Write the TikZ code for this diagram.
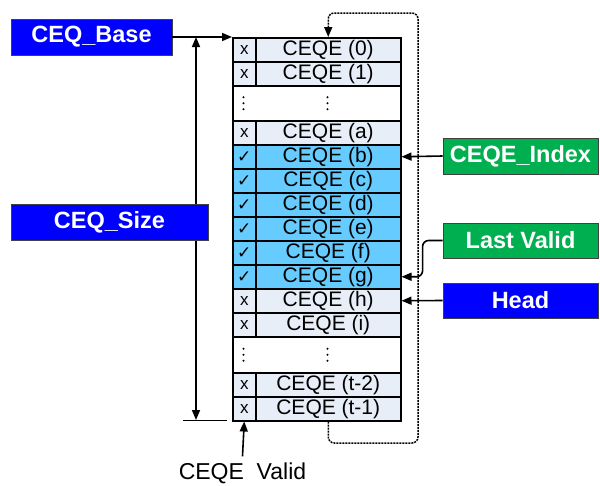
\documentclass[tikz,border=0pt]{standalone}
\usepackage{fontspec}
\setmainfont{Liberation Sans}
\newfontfamily\dejavu{DejaVu Sans}
\usetikzlibrary{arrows.meta}
\definecolor{cellgray}{HTML}{E8EEF8}
\definecolor{cellblue}{HTML}{66CCFF}
\definecolor{lblblue}{HTML}{0000FF}
\definecolor{lblgreen}{HTML}{00B050}
\newcommand{\xsym}{{\fontsize{17}{17}\selectfont x}}
\newcommand{\vsym}{{\dejavu\fontsize{17}{17}\selectfont ✓}}
\begin{document}
\begin{tikzpicture}[x=1pt,y=-1pt,
  cell/.style={draw=black, line width=1.5pt, inner sep=0pt, anchor=north west,
    minimum height=24pt, font=\fontsize{21}{21}\selectfont},
  dotrow/.style={draw=black, line width=1.5pt, fill=white, inner sep=0pt,
    anchor=north west, minimum width=168pt, minimum height=35pt},
  lbl/.style={draw=black!75, line width=0.8pt, text=white, inner sep=0pt,
    minimum height=36pt, font=\bfseries\fontsize{23.5}{24}\selectfont},
  conn/.style={draw=black, line width=1.6pt, -{Triangle[length=10pt,width=8pt]}},
  loopline/.style={draw=black, line width=1.5pt, dash pattern=on 2pt off 1pt,
    rounded corners=6pt, -{Triangle[length=10pt,width=8pt]}},
  thinline/.style={draw=black, line width=1pt}
]
\useasboundingbox (0,0) rectangle (600,485);

% size dimension
\coordinate (st) at (196,37);
\coordinate (sb) at (196,420);
\coordinate (el) at (183,420);
\coordinate (er) at (227,420);
\draw[line width=1.6pt, {Triangle[length=10pt,width=8pt]}-{Triangle[length=10pt,width=8pt]}] (st) -- (sb);
\draw[thinline] (el) -- (er);

% left labels
\node[lbl, fill=lblblue, minimum width=161pt] (base) at (91.5,37) {CEQ\_Base};
\node[lbl, fill=lblblue, minimum width=197pt] (size) at (109.5,222) {CEQ\_Size};

% table rows
\foreach \n/\t/\lab/\fc/\sym in {
  r0/37/{CEQE (0)}/cellgray/\xsym,
  r1/61/{CEQE (1)}/cellgray/\xsym,
  ra/120/{CEQE (a)}/cellgray/\xsym,
  rb/144/{CEQE (b)}/cellblue/\vsym,
  rc/168/{CEQE (c)}/cellblue/\vsym,
  rd/192/{CEQE (d)}/cellblue/\vsym,
  re/216/{CEQE (e)}/cellblue/\vsym,
  rf/240/{CEQE (f)}/cellblue/\vsym,
  rg/264/{CEQE (g)}/cellblue/\vsym,
  rh/288/{CEQE (h)}/cellgray/\xsym,
  ri/312/{CEQE (i)}/cellgray/\xsym,
  rt2/372/{CEQE (t-2)}/cellgray/\xsym,
  rt1/396/{CEQE (t-1)}/cellgray/\xsym}{
  \node[cell, fill=\fc, minimum width=23pt] (\n-s) at (232,\t) {\sym};
  \node[cell, fill=\fc, minimum width=145pt] (\n-l) at (255,\t) {\lab};
}
\node[dotrow] (d1) at (232,85) {};
\node[dotrow, minimum height=36pt] (d2) at (232,336) {};
\foreach \d in {d1,d2}{
  \foreach \dy in {-6,0,6}{
    \fill ([xshift=11.5pt,yshift=\dy pt]\d.west) circle (1.1pt);
    \fill ([xshift=95.5pt,yshift=\dy pt]\d.west) circle (1.1pt);
  }
}

% base arrow
\draw[conn] (base.east) -- (r0-s.north west);

% wrap-around loop
\coordinate (lb) at (418,443);
\coordinate (lt) at (418,13);
\draw[loopline] (rt1-l.south) |- (lb) -- (lt) -| (r0-l.north);

% right labels
\node[lbl, fill=lblgreen, minimum width=155pt] (idx) at (520.5,156) {CEQE\_Index};
\node[lbl, fill=lblgreen, minimum width=155pt, minimum height=35pt] (lv) at (520.5,240.5) {Last Valid};
\node[lbl, fill=lblblue, minimum width=155pt, minimum height=35pt] (head) at (520.5,300.5) {Head};
\draw[conn] (idx.west) -- (rb-l.east);
\draw[conn, rounded corners=6pt] (lv.west) -- ++(-20,0) |- (rg-l.east);
\draw[conn] (head.west) -- (rh-l.east);

% valid label
\node[inner sep=2pt, font=\fontsize{23}{23}\selectfont] (valid) at (242.5,473) {CEQE\ \ Valid};
\draw[conn] ([yshift=4pt]valid.north) -- (rt1-s.south);
\end{tikzpicture}
\end{document}
